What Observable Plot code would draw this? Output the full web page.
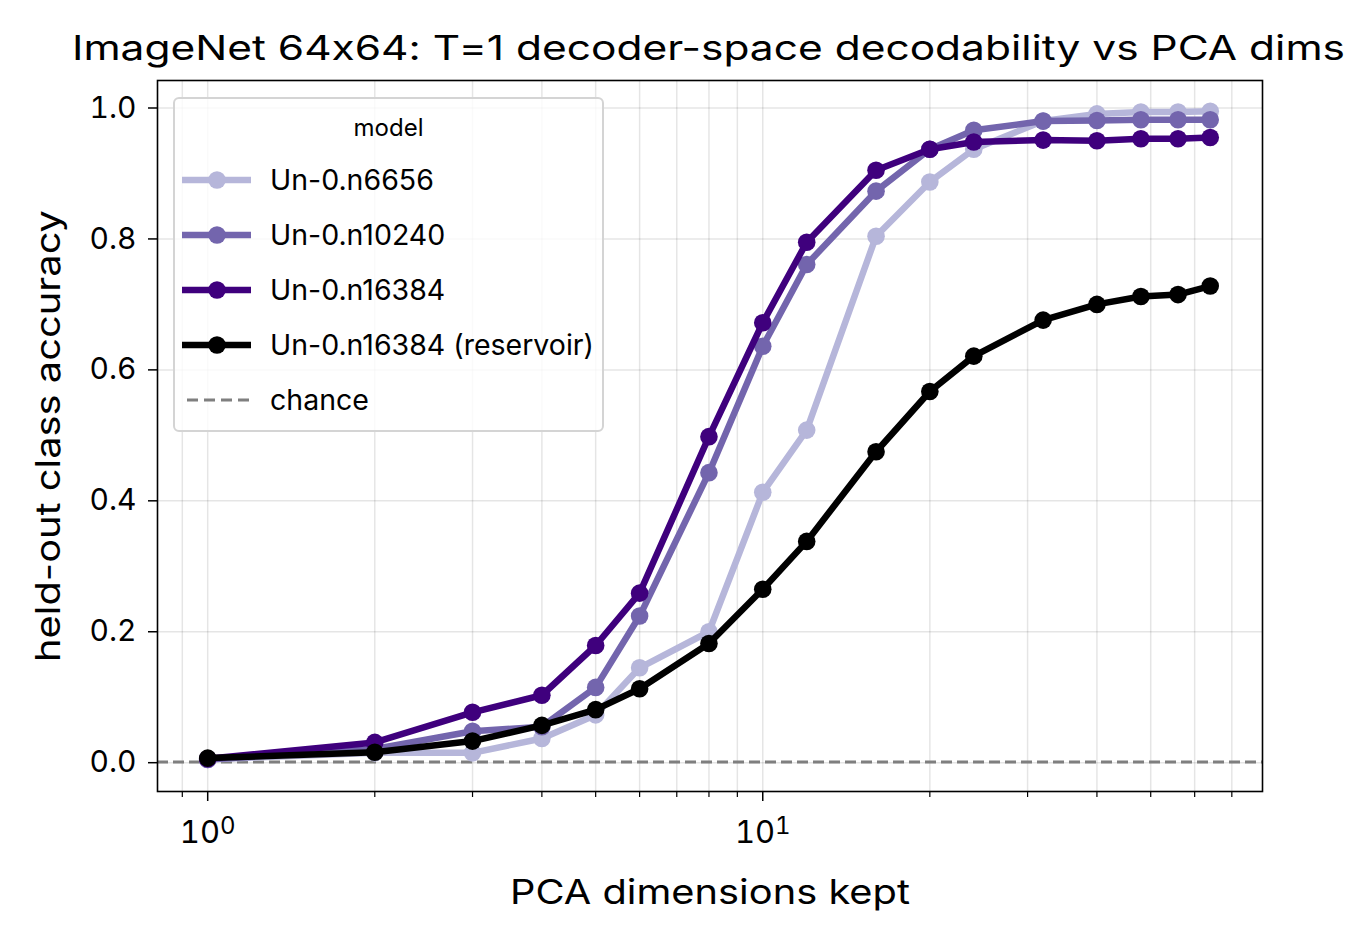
<!DOCTYPE html>
<html>
<head>
<meta charset="utf-8">
<script src="https://cdn.jsdelivr.net/npm/d3@7"></script>
<script src="https://cdn.jsdelivr.net/npm/@observablehq/plot@0.6"></script>
<style>
  html, body { margin: 0; padding: 0; background: #fff; }
  #wrap { position: relative; width: 1367px; height: 940px; font-family: Inter, "Liberation Sans", sans-serif; color: #000; font-feature-settings: "calt" 0, "liga" 0; }
  #wrap svg text { font-feature-settings: "calt" 0, "liga" 0; }
  #titleSvg { display: block; }
  #legend { position: absolute; left: 173px; top: 97px; width: 431px; height: 335px; border: 2px solid #d4d4d4; border-radius: 6px; background: rgba(255,255,255,0.8); box-sizing: border-box; }
  #legend .ttl { position: absolute; left: 0; width: 100%; top: 14px; text-align: center; font-size: 24px; }
  #legend .row { position: absolute; left: 0; height: 40px; }
  #legend .row svg { position: absolute; left: 5px; top: 0; }
  #legend .row span { position: absolute; left: 95px; top: 0; line-height: 40px; font-size: 28.5px; white-space: nowrap; }
</style>
</head>
<body>
<div id="wrap">
  <svg id="titleSvg" width="1367" height="72"><text x="708.5" y="60" text-anchor="middle" font-size="34" textLength="1273" lengthAdjust="spacingAndGlyphs" fill="#000">ImageNet 64x64: T=1 decoder-space decodability vs PCA dims</text></svg>
  <div id="chart"></div>
  <div id="legend"></div>
</div>
<script>
const dims = [1, 2, 3, 4, 5, 6, 8, 10, 12, 16, 20, 24, 32, 40, 48, 56, 64];
const acc6656 = [0.005, 0.015, 0.015, 0.037, 0.073, 0.145, 0.200, 0.413, 0.508, 0.804, 0.887, 0.937, 0.980, 0.991, 0.994, 0.994, 0.995];
const acc10240 = [0.005, 0.021, 0.048, 0.055, 0.115, 0.224, 0.443, 0.636, 0.761, 0.873, 0.937, 0.966, 0.980, 0.981, 0.982, 0.982, 0.982];
const acc16384 = [0.006, 0.031, 0.077, 0.103, 0.179, 0.259, 0.498, 0.672, 0.795, 0.905, 0.937, 0.948, 0.951, 0.950, 0.953, 0.953, 0.955];
const accReservoir = [0.007, 0.016, 0.033, 0.057, 0.081, 0.113, 0.182, 0.265, 0.338, 0.475, 0.567, 0.621, 0.676, 0.700, 0.712, 0.715, 0.728];
const chance = 0.001;

const seriesNames = ["Un-0.n6656", "Un-0.n10240", "Un-0.n16384", "Un-0.n16384 (reservoir)"];
const seriesValues = [acc6656, acc10240, acc16384, accReservoir];
const seriesColors = ["#b6b6da", "#7365ad", "#3f007d", "#000000"];

const xMajorTicks = [1, 10];
const xMajorBase = ["10", "10"];
const xMajorExp = ["0", "1"];
const xMinorTicks = [0.9, 2, 3, 4, 5, 6, 7, 8, 9, 20, 30, 40, 50, 60, 70];
const yTicks = [0, 0.2, 0.4, 0.6, 0.8, 1.0];

const rows = [];
seriesNames.forEach((name, i) => {
  dims.forEach((d, j) => rows.push({model: name, dims: d, acc: seriesValues[i][j]}));
});

const seriesMarks = [];
seriesNames.forEach((name, i) => {
  const data = rows.filter(r => r.model === name);
  seriesMarks.push(Plot.line(data, {x: "dims", y: "acc", stroke: seriesColors[i], strokeWidth: 6.5, strokeLinejoin: "round", strokeLinecap: "round"}));
  seriesMarks.push(Plot.dot(data, {x: "dims", y: "acc", r: 8.8, fill: seriesColors[i], stroke: "none"}));
});

const chart = Plot.plot({
  width: 1367,
  height: 868,
  marginLeft: 157,
  marginRight: 105,
  marginTop: 8,
  marginBottom: 149,
  style: {fontFamily: "Inter, 'Liberation Sans', sans-serif", fontSize: "30px", color: "#000", background: "transparent"},
  x: {type: "log", domain: [0.812, 79.5]},
  y: {domain: [-0.044, 1.042]},
  marks: [
    Plot.gridX([...xMajorTicks, ...xMinorTicks], {stroke: "#000", strokeOpacity: 0.1, strokeWidth: 1.5}),
    Plot.gridY(yTicks, {stroke: "#000", strokeOpacity: 0.1, strokeWidth: 1.5}),
    Plot.ruleY([chance], {stroke: "#7f7f7f", strokeWidth: 3, strokeDasharray: "11,5"}),
    ...seriesMarks,
    Plot.frame({stroke: "#000", strokeWidth: 1.6}),
    Plot.axisY(yTicks, {tickSize: 9, tickPadding: 12, tickFormat: d => d.toFixed(1), fontSize: 30, label: null, strokeWidth: 1.5}),
    Plot.axisX(xMajorTicks, {tickSize: 10, tickPadding: 19, tickFormat: d => xMajorBase[xMajorTicks.indexOf(d)] + "^" + xMajorExp[xMajorTicks.indexOf(d)], fontSize: 31, label: null, strokeWidth: 1.5}),
    Plot.axisX(xMinorTicks, {tickSize: 6, tickFormat: () => "", label: null, strokeWidth: 1.2}),
    Plot.text(["PCA dimensions kept"], {frameAnchor: "bottom", dy: 102, fontSize: 34, lineAnchor: "middle", className: "xlab"}),
    Plot.text(["held-out class accuracy"], {frameAnchor: "left", dx: -108, rotate: -90, fontSize: 34, lineAnchor: "middle", textAnchor: "middle", className: "ylab"})
  ]
});
document.getElementById("chart").appendChild(chart);

// stretch axis labels to the reference's wider face
const xl = chart.querySelector(".xlab text");
if (xl) { xl.setAttribute("textLength", 400); xl.setAttribute("lengthAdjust", "spacingAndGlyphs"); }
const yl = chart.querySelector(".ylab text");
if (yl) { yl.setAttribute("textLength", 452); yl.setAttribute("lengthAdjust", "spacingAndGlyphs"); }

// superscript exponents on the major x tick labels
const svgns = "http://www.w3.org/2000/svg";
chart.querySelectorAll("text").forEach(t => {
  const s = t.textContent;
  if (s.includes("^")) {
    const [b, e] = s.split("^");
    t.textContent = b;
    const ts = document.createElementNS(svgns, "tspan");
    ts.setAttribute("dy", "-9");
    ts.setAttribute("font-size", "24");
    ts.textContent = e;
    t.appendChild(ts);
  }
});

// legend
const legend = document.getElementById("legend");
const ttl = document.createElement("div");
ttl.className = "ttl";
ttl.textContent = "model";
legend.appendChild(ttl);
const legendNames = [...seriesNames, "chance"];
legendNames.forEach((name, i) => {
  const row = document.createElement("div");
  row.className = "row";
  row.style.top = (83 - 20 + i * 55 - 2) + "px";
  let sw;
  if (i < seriesNames.length) {
    sw = `<svg width="80" height="40"><line x1="2" y1="20" x2="71" y2="20" stroke="${seriesColors[i]}" stroke-width="6.5"/><circle cx="37" cy="20" r="8.8" fill="${seriesColors[i]}"/></svg>`;
  } else {
    sw = `<svg width="80" height="40"><line x1="7" y1="20" x2="72" y2="20" stroke="#7f7f7f" stroke-width="3" stroke-dasharray="11,6"/></svg>`;
  }
  row.innerHTML = sw + `<span>${name}</span>`;
  legend.appendChild(row);
});
</script>
</body>
</html>
